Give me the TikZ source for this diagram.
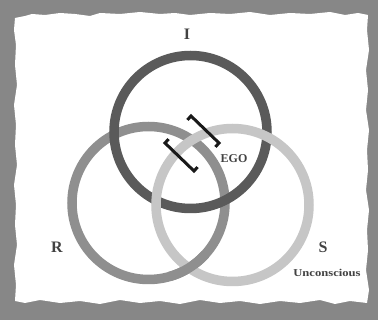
\documentclass[tikz,border=0pt]{standalone}
\usepackage{fontspec}
\setmainfont{Liberation Serif}
\definecolor{bg}{HTML}{878787}
\definecolor{icol}{HTML}{5A5A5A}
\definecolor{rcol}{HTML}{8F8F8F}
\definecolor{scol}{HTML}{C6C6C6}
\definecolor{txt}{HTML}{424242}
\begin{document}
\begin{tikzpicture}[x=1pt,y=-1pt,
  ring/.style={line width=9.5pt},
  lbl/.style={text=txt, inner sep=0pt},
  brk/.style={line width=3pt, black!90, line join=miter}]
\useasboundingbox (0,0) rectangle (378,320);
\fill[bg] (0,0) rectangle (378,320);
\fill[white] (15,18) -- (25,16) -- (32,14) -- (45,15) -- (60,13) -- (75,14) -- (90,16) -- (100,13) -- (120,14) -- (140,12) -- (160,14) -- (175,13) -- (190,15) -- (210,13) -- (230,14) -- (250,12) -- (270,15) -- (290,13) -- (310,14) -- (330,12) -- (345,15) -- (358,13) -- (368,15)
 -- (367,30) -- (369,50) -- (366,70) -- (368,90) -- (366,110) -- (369,130) -- (367,150) -- (368,170) -- (366,190) -- (369,210) -- (367,230) -- (368,250) -- (366,270) -- (369,290) -- (367,303)
 -- (350,301) -- (335,304) -- (320,300) -- (300,303) -- (280,301) -- (260,304) -- (240,301) -- (220,303) -- (200,300) -- (180,304) -- (160,301) -- (140,303) -- (120,300) -- (100,304) -- (80,301) -- (60,303) -- (40,300) -- (25,303) -- (15,301)
 -- (16,285) -- (14,265) -- (17,245) -- (15,225) -- (16,205) -- (14,185) -- (17,165) -- (15,145) -- (16,125) -- (14,105) -- (17,85) -- (15,65) -- (16,45) -- (14,30) -- cycle;
\coordinate (cI) at (190.5,132);
\coordinate (cR) at (148.5,203);
\coordinate (cS) at (232.5,205);
\draw[ring, rcol] (cR) circle (76.5);
\draw[ring, icol] (cI) circle (76.5);
\draw[ring, scol] (cS) circle (76.5);
\draw[ring, rcol] (cR) ++(42:76.5) arc (42:74:76.5);
% brackets
\coordinate (t1) at (191,116);
\coordinate (t2) at (219,143);
\coordinate (b1) at (165,143);
\coordinate (b2) at (194,171);
\draw[brk] (t1) ++(-3.6,3.9) -- (t1) -- (t2) -- ++(-3.6,3.9);
\draw[brk] (b1) ++(3.6,-3.9) -- (b1) -- (b2) -- ++(3.6,-3.9);
% labels
\node[lbl, font=\bfseries\fontsize{16}{16}\selectfont] (I) at (187,34) {I};
\node[lbl, font=\bfseries\fontsize{16}{16}\selectfont] (R) at (57,247) {R};
\node[lbl, font=\bfseries\fontsize{16}{16}\selectfont] (S) at (323,247) {S};
\node[lbl, font=\bfseries\fontsize{12}{12}\selectfont] (EGO) at (234,159) {EGO};
\node[lbl, font=\bfseries\fontsize{10.5}{10.5}\selectfont, xscale=1.2] (U) at (327,273) {Unconscious};
\end{tikzpicture}
\end{document}
